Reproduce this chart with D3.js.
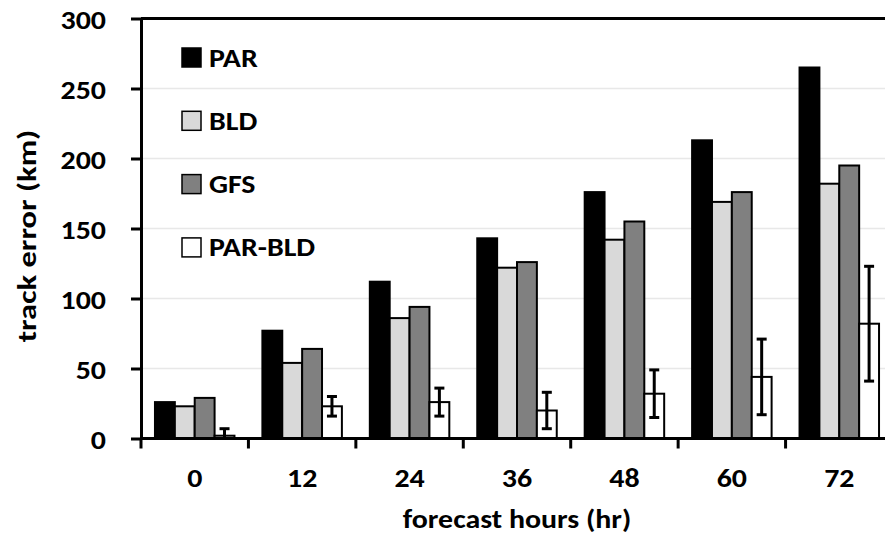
<!DOCTYPE html>
<html>
<head>
<meta charset="utf-8">
<script src="https://cdn.jsdelivr.net/npm/d3@7"></script>
<style>
  body { margin: 0; background: #fff; }
  svg { display: block; }
  text { font-family: Carlito, Calibri, "Open Sans", sans-serif; font-weight: bold; fill: #000; font-size: 26px; }
</style>
</head>
<body>
<script>
var w = 885, h = 538;

var hours = ["0", "12", "24", "36", "48", "60", "72"];
var seriesNames = ["PAR", "BLD", "GFS", "PAR-BLD"];
var parErr = [26, 77, 112, 143, 176, 213, 265];
var bldErr = [23, 54, 86, 122, 142, 169, 182];
var gfsErr = [29, 64, 94, 126, 155, 176, 195];
var diffErr = [2, 23, 26, 20, 32, 44, 82];
var diffBar = [5, 7, 10, 13, 17, 27, 41];   // +/- half length of error bars
var yTicks = [0, 50, 100, 150, 200, 250, 300];
var colors = ["#000000", "#d9d9d9", "#808080", "#ffffff"];

var values = [parErr, bldErr, gfsErr, diffErr];
var stretch = "scale(1.15,1)";

var svg = d3.select("body").append("svg")
    .attr("width", w)
    .attr("height", h);

// plot runs past the right edge, as in the cropped original
var x0 = d3.scaleBand()
    .domain(hours)
    .range([141, 893])
    .paddingInner(0.26)
    .paddingOuter(0.13);

var x1 = d3.scaleBand()
    .domain(seriesNames)
    .range([0, x0.bandwidth()]);

var y = d3.scaleLinear()
    .domain([0, 300])
    .range([438.5, 18.5]);

// gridlines
svg.append("g").selectAll("line")
    .data(yTicks.slice(1, -1))
    .enter().append("line")
    .attr("x1", 141).attr("x2", 893)
    .attr("y1", function(d) { return y(d); })
    .attr("y2", function(d) { return y(d); })
    .attr("stroke", "#e8e8e8")
    .attr("stroke-width", 1.5);

// top border
svg.append("line")
    .attr("x1", 141).attr("x2", 893)
    .attr("y1", y(300)).attr("y2", y(300))
    .attr("stroke", "#000").attr("stroke-width", 3);

// bars
var groups = svg.selectAll("g.grp")
    .data(hours)
    .enter().append("g")
    .attr("class", "grp")
    .attr("transform", function(d) { return "translate(" + x0(d) + ",0)"; });

groups.selectAll("rect")
    .data(function(d, i) {
        return seriesNames.map(function(s, k) { return {s: s, k: k, v: values[k][i]}; });
    })
    .enter().append("rect")
    .attr("x", function(d) { return x1(d.s); })
    .attr("y", function(d) { return y(d.v); })
    .attr("width", x1.bandwidth())
    .attr("height", function(d) { return y(0) - y(d.v); })
    .attr("fill", function(d) { return colors[d.k]; })
    .attr("stroke", "#000")
    .attr("stroke-width", 2);

// error bars on PAR-BLD
var ex = x1("PAR-BLD") + x1.bandwidth() / 2;
var eb = groups.append("g")
    .attr("stroke", "#000")
    .attr("stroke-width", 3);

eb.append("line")
    .attr("x1", ex).attr("x2", ex)
    .attr("y1", function(d, i) { return y(Math.max(0, diffErr[i] - diffBar[i])); })
    .attr("y2", function(d, i) { return y(diffErr[i] + diffBar[i]); });

eb.append("line")
    .attr("x1", ex - 5).attr("x2", ex + 5)
    .attr("y1", function(d, i) { return y(diffErr[i] + diffBar[i]); })
    .attr("y2", function(d, i) { return y(diffErr[i] + diffBar[i]); });

eb.filter(function(d, i) { return diffErr[i] - diffBar[i] > 0; })
    .append("line")
    .attr("x1", ex - 5).attr("x2", ex + 5)
    .attr("y1", function(d) { var i = hours.indexOf(d); return y(diffErr[i] - diffBar[i]); })
    .attr("y2", function(d) { var i = hours.indexOf(d); return y(diffErr[i] - diffBar[i]); });

// y axis
var yAxis = svg.append("g")
    .attr("transform", "translate(141,0)")
    .call(d3.axisLeft(y).tickValues(yTicks).tickSize(10).tickSizeOuter(0).tickFormat(""));
yAxis.select(".domain").attr("stroke-width", 3);
yAxis.selectAll(".tick line").attr("stroke-width", 3);

svg.append("g").selectAll("text")
    .data(yTicks)
    .enter().append("text")
    .attr("text-anchor", "end")
    .attr("transform", function(d) { return "translate(106," + (y(d) + 10) + ") " + stretch; })
    .text(function(d) { return d; });

// x axis
var step = x0.step();
svg.append("line")
    .attr("x1", 141).attr("x2", 893)
    .attr("y1", y(0)).attr("y2", y(0))
    .attr("stroke", "#000").attr("stroke-width", 3);

svg.append("g").selectAll("line")
    .data(hours)
    .enter().append("line")
    .attr("x1", function(d) { return x0(d) - step * 0.13; })
    .attr("x2", function(d) { return x0(d) - step * 0.13; })
    .attr("y1", y(0)).attr("y2", y(0) + 10)
    .attr("stroke", "#000").attr("stroke-width", 3);

svg.append("g").selectAll("text")
    .data(hours)
    .enter().append("text")
    .attr("text-anchor", "middle")
    .attr("transform", function(d) { return "translate(" + (x0(d) + x0.bandwidth() / 2) + ",487) " + stretch; })
    .text(function(d) { return d; });

// axis titles
svg.append("text")
    .attr("text-anchor", "middle")
    .attr("transform", "translate(" + (141 + 893) / 2 + ",528) " + stretch)
    .text("forecast hours (hr)");

svg.append("text")
    .attr("text-anchor", "middle")
    .attr("transform", "translate(36,236) rotate(-90) scale(1.25,1)")
    .text("track error (km)");

// legend
var legend = svg.selectAll("g.leg")
    .data(seriesNames)
    .enter().append("g")
    .attr("class", "leg")
    .attr("transform", function(d, i) { return "translate(182," + (48 + i * 63.3) + ")"; });

legend.append("rect")
    .attr("width", 19).attr("height", 19)
    .attr("fill", function(d, i) { return colors[i]; })
    .attr("stroke", "#000")
    .attr("stroke-width", 1.5);

legend.append("text")
    .attr("transform", "translate(27,18.5) " + stretch)
    .text(function(d) { return d; });
</script>
</body>
</html>
